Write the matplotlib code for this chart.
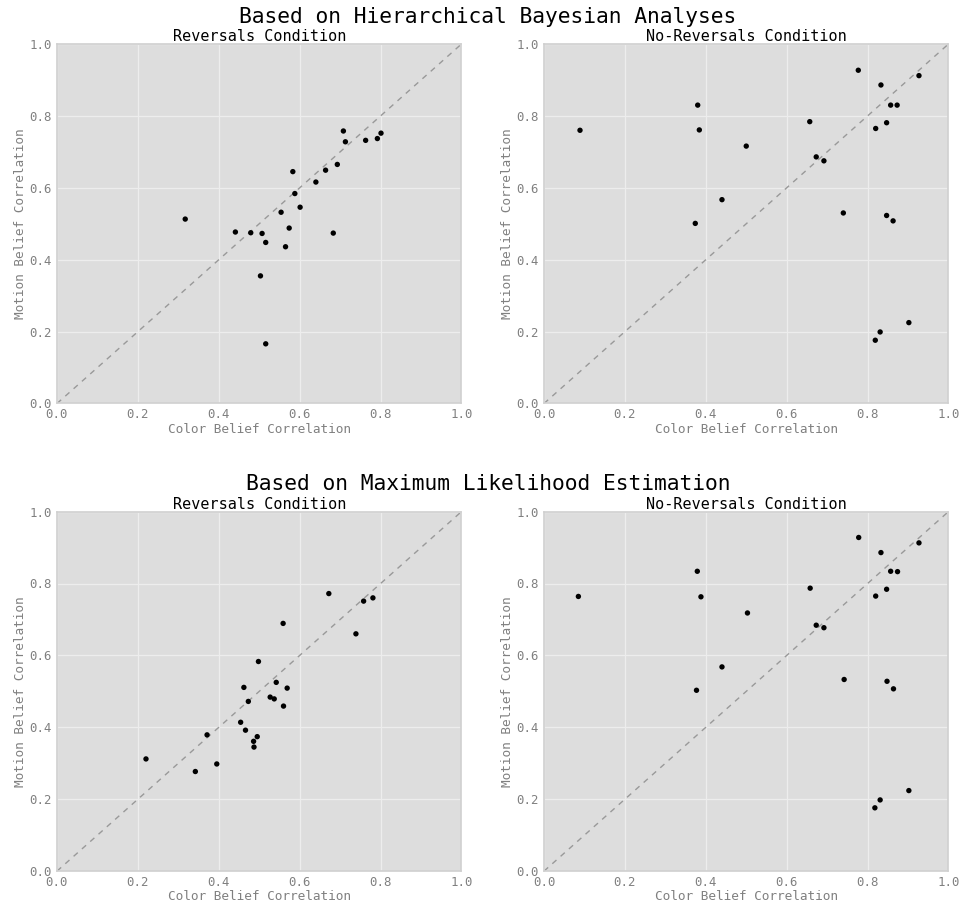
import numpy as np
import matplotlib
matplotlib.use("Agg")
import matplotlib.pyplot as plt

plt.rcParams.update({
    'font.family': 'DejaVu Sans Mono',
    'axes.facecolor': '#DDDDDD',
    'axes.edgecolor': '#D0D0D0',
    'axes.linewidth': 1.2,
    'grid.color': '#EDEDED',
    'grid.linewidth': 0.9,
    'xtick.color': '#808080',
    'ytick.color': '#808080',
    'xtick.labelsize': 8.9,
    'ytick.labelsize': 8.9,
    'axes.labelcolor': '#808080',
    'axes.labelsize': 9.2,
})

# Hierarchical Bayesian estimates
hb_rev_color = [0.317, 0.441, 0.479, 0.507, 0.516, 0.565, 0.574, 0.554, 0.601, 0.588, 0.583,
                0.640, 0.664, 0.693, 0.683, 0.708, 0.713, 0.763, 0.792, 0.801, 0.503, 0.516]
hb_rev_motion = [0.513, 0.477, 0.475, 0.473, 0.448, 0.436, 0.488, 0.532, 0.546, 0.584, 0.645,
                 0.616, 0.649, 0.665, 0.474, 0.758, 0.728, 0.732, 0.737, 0.752, 0.355, 0.166]
hb_norev_color = [0.089, 0.380, 0.384, 0.500, 0.440, 0.374, 0.657, 0.673, 0.692, 0.740, 0.777,
                  0.833, 0.857, 0.873, 0.820, 0.847, 0.927, 0.847, 0.863, 0.819, 0.831, 0.902]
hb_norev_motion = [0.760, 0.830, 0.761, 0.716, 0.567, 0.501, 0.784, 0.686, 0.675, 0.530, 0.927,
                   0.886, 0.830, 0.830, 0.765, 0.781, 0.912, 0.523, 0.508, 0.176, 0.199, 0.225]

# Maximum likelihood estimates
ml_rev_color = [0.220, 0.342, 0.395, 0.371, 0.454, 0.466, 0.495, 0.486, 0.487, 0.473, 0.462,
                0.498, 0.527, 0.537, 0.542, 0.560, 0.569, 0.559, 0.672, 0.739, 0.758, 0.781]
ml_rev_motion = [0.312, 0.277, 0.298, 0.379, 0.414, 0.392, 0.374, 0.361, 0.345, 0.472, 0.511,
                 0.583, 0.484, 0.479, 0.525, 0.459, 0.509, 0.689, 0.772, 0.660, 0.751, 0.760]
ml_norev_color = [0.085, 0.379, 0.388, 0.503, 0.440, 0.377, 0.658, 0.673, 0.692, 0.742, 0.778,
                  0.833, 0.857, 0.874, 0.820, 0.847, 0.927, 0.848, 0.864, 0.818, 0.831, 0.902]
ml_norev_motion = [0.764, 0.834, 0.763, 0.718, 0.568, 0.503, 0.787, 0.684, 0.677, 0.533, 0.928,
                   0.886, 0.834, 0.833, 0.765, 0.784, 0.913, 0.528, 0.507, 0.176, 0.198, 0.224]

panels = [
    (hb_rev_color, hb_rev_motion, "Reversals Condition"),
    (hb_norev_color, hb_norev_motion, "No-Reversals Condition"),
    (ml_rev_color, ml_rev_motion, "Reversals Condition"),
    (ml_norev_color, ml_norev_motion, "No-Reversals Condition"),
]

W, H = 962, 905
fig = plt.figure(figsize=(W / 100, H / 100), dpi=100)

lefts = [57, 544]
tops = [44, 511.6]
aw, ah = 404.5, 359.5

ticks = [0.0, 0.2, 0.4, 0.6, 0.8, 1.0]
for i, (cx, my, title) in enumerate(panels):
    r, c = divmod(i, 2)
    ax = fig.add_axes([lefts[c] / W, 1 - (tops[r] + ah) / H, aw / W, ah / H])
    ax.set_axisbelow(True)
    ax.grid(True)
    ax.plot([0, 1], [0, 1], ls='--', color='#999999', lw=1.0, dashes=(4, 4))
    ax.scatter(cx, my, s=15, color='black', zorder=3, edgecolors='none')
    ax.set_xlim(0, 1)
    ax.set_ylim(0, 1)
    ax.set_xticks(ticks)
    ax.set_yticks(ticks)
    ax.set_xticklabels(["%.1f" % t for t in ticks])
    ax.set_yticklabels(["%.1f" % t for t in ticks])
    ax.tick_params(length=0, pad=3.5)
    ax.set_xlabel("Color Belief Correlation", labelpad=1)
    ax.set_ylabel("Motion Belief Correlation", labelpad=2)
    ax.set_title(title, fontsize=10.9, color='black', pad=2)

fig.text(488 / W, 1 - 17 / H, "Based on Hierarchical Bayesian Analyses",
         ha='center', va='center', fontsize=15.3, color='black')
fig.text(488 / W, 1 - 484 / H, "Based on Maximum Likelihood Estimation",
         ha='center', va='center', fontsize=15.3, color='black')

fig.savefig("out.png", dpi=100)
